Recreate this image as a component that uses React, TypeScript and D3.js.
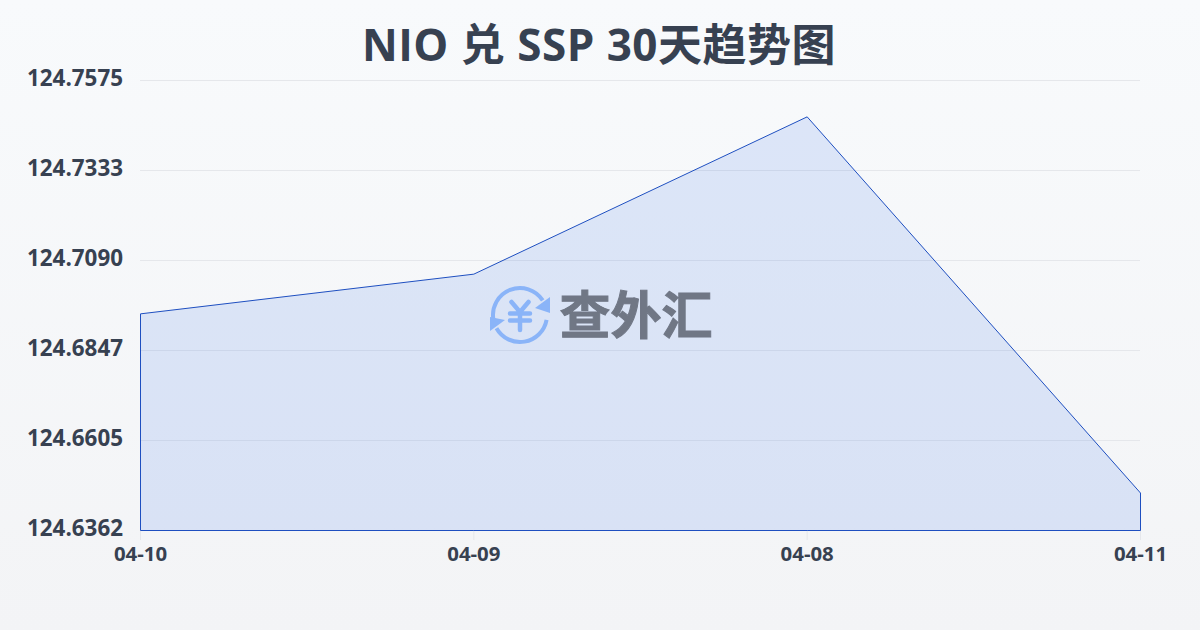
import React, { useEffect, useRef } from 'react';
import * as d3 from 'd3';

const dates = ['04-10', '04-09', '04-08', '04-11'];
const rates = [124.6946, 124.7053, 124.7477, 124.6463];
const yTicks = [124.6362, 124.6605, 124.6847, 124.709, 124.7333, 124.7575];
const yLabels = ['124.6362', '124.6605', '124.6847', '124.7090', '124.7333', '124.7575'];
const titleText = 'NIO 兑 SSP 30天趋势图';
const markText = '查外汇';

const WIDTH = 1200;
const HEIGHT = 630;
const FONT = '"Open Sans", "Noto Sans CJK SC", sans-serif';

export default function App() {
  const svgRef = useRef<SVGSVGElement>(null);

  useEffect(() => {
    if (!svgRef.current) return;
    const svg = d3.select(svgRef.current);
    svg.selectAll('*').remove();

    const x = d3.scalePoint<string>().domain(dates).range([140.5, 1140.5]);
    const y = d3.scaleLinear().domain([124.6362, 124.7575]).range([530.5, 80.5]);

    const defs = svg.append('defs');
    const bg = defs.append('linearGradient').attr('id', 'bg').attr('x1', 0).attr('y1', 0).attr('x2', 0).attr('y2', 1);
    bg.append('stop').attr('offset', '0%').attr('stop-color', '#f8fafc');
    bg.append('stop').attr('offset', '100%').attr('stop-color', '#f3f4f6');

    svg.append('rect').attr('width', WIDTH).attr('height', HEIGHT).attr('fill', 'url(#bg)');

    svg.append('text')
      .attr('x', 599)
      .attr('y', 61)
      .attr('text-anchor', 'middle')
      .attr('font-family', FONT)
      .attr('font-size', 44)
      .attr('font-weight', 700)
      .attr('letter-spacing', 0.5)
      .attr('fill', '#374151')
      .text(titleText);

    // grid
    svg.append('g').selectAll('line')
      .data(yTicks)
      .enter()
      .append('line')
      .attr('x1', 140)
      .attr('x2', 1140)
      .attr('y1', d => Math.floor(y(d)) + 0.5)
      .attr('y2', d => Math.floor(y(d)) + 0.5)
      .attr('stroke', '#e5e7eb')
      .attr('stroke-width', 1);

    // x ticks
    svg.append('g').selectAll('line')
      .data(dates)
      .enter()
      .append('line')
      .attr('x1', d => x(d)!)
      .attr('x2', d => x(d)!)
      .attr('y1', 530)
      .attr('y2', 540)
      .attr('stroke', '#e5e7eb')
      .attr('stroke-width', 1);

    const points = dates.map((d, i) => ({ date: d, rate: rates[i] }));
    const area = d3.area<{ date: string; rate: number }>()
      .x(d => x(d.date)!)
      .y0(530.5)
      .y1(d => y(d.rate));

    svg.append('path')
      .datum(points)
      .attr('d', area)
      .attr('fill', '#2563eb')
      .attr('fill-opacity', 0.13)
      .attr('stroke', '#1e4fc0')
      .attr('stroke-width', 1);

    svg.append('g').selectAll('text')
      .data(yTicks)
      .enter()
      .append('text')
      .attr('x', 123)
      .attr('y', d => y(d) + 5.5)
      .attr('text-anchor', 'end')
      .attr('font-family', FONT)
      .attr('font-size', 22.4)
      .attr('font-weight', 700)
      .attr('fill', '#374151')
      .text((d, i) => yLabels[i]);

    svg.append('g').selectAll('text')
      .data(dates)
      .enter()
      .append('text')
      .attr('x', d => x(d)!)
      .attr('y', 561)
      .attr('text-anchor', 'middle')
      .attr('font-family', FONT)
      .attr('font-size', 20.4)
      .attr('font-weight', 700)
      .attr('fill', '#374151')
      .text(d => d);

    // watermark
    const mark = svg.append('g').attr('transform', 'translate(520,315)');
    const arc = d3.arc();
    const ring = (a0: number, a1: number) =>
      arc({ innerRadius: 25, outerRadius: 29, startAngle: a0, endAngle: a1, cornerRadius: 2 }) as string;
    const blue = '#8ab4f8';
    mark.append('path').attr('d', ring(-1.75, 1.0)).attr('fill', blue);
    mark.append('path').attr('d', ring(1.75, 4.2)).attr('fill', blue);
    mark.append('path').attr('d', 'M30 -18 L30 -2 L15 -7 Z').attr('fill', blue);
    mark.append('path').attr('d', 'M-30 2 L-30 16 L-15 5 Z').attr('fill', blue);
    mark.append('path')
      .attr('d', 'M-8.5 -13 L0 -3 L8.5 -13 M-10 -1.5 H10 M-10 5.5 H10 M0 -3 V15')
      .attr('fill', 'none')
      .attr('stroke', blue)
      .attr('stroke-width', 4.5)
      .attr('stroke-linecap', 'round');

    mark.append('text')
      .attr('x', 116)
      .attr('y', 19)
      .attr('text-anchor', 'middle')
      .attr('font-family', '"Noto Sans CJK SC", sans-serif')
      .attr('font-size', 51)
      .attr('font-weight', 700)
      .attr('fill', '#6b7280')
      .attr('stroke', '#6b7280')
      .attr('stroke-width', 1)
      .attr('opacity', 0.95)
      .text(markText);
  }, []);

  return (
    <svg
      ref={svgRef}
      width={WIDTH}
      height={HEIGHT}
      style={{ position: 'fixed', left: 0, top: 0, display: 'block' }}
    />
  );
}
